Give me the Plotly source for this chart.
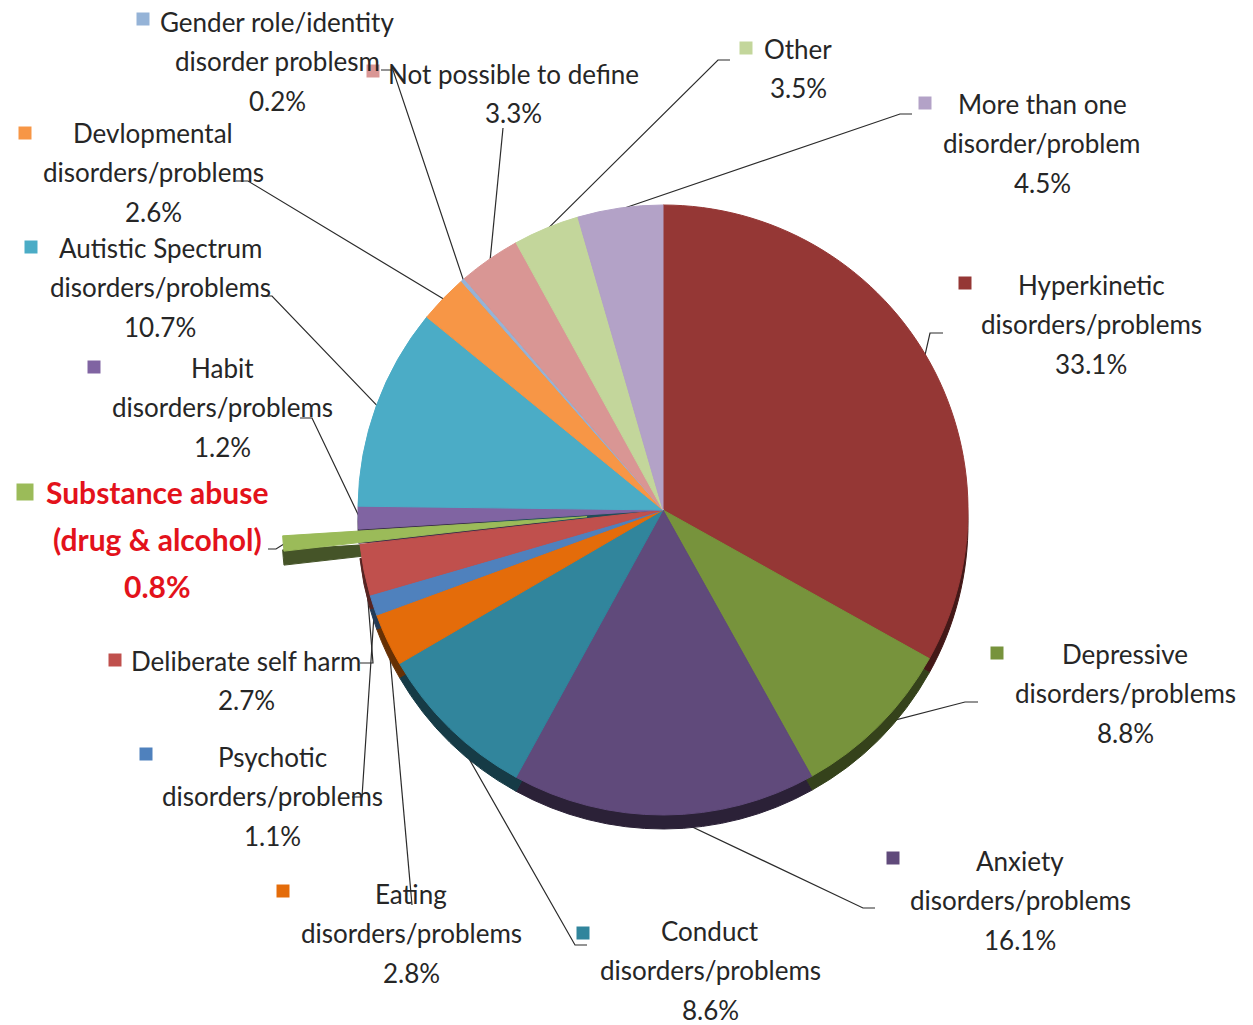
import math
import plotly.graph_objects as go

# Referral categories (clockwise from 12 o'clock) and their shares in percent
categories = [
    "Hyperkinetic\ndisorders/problems",
    "Depressive\ndisorders/problems",
    "Anxiety\ndisorders/problems",
    "Conduct\ndisorders/problems",
    "Eating\ndisorders/problems",
    "Psychotic\ndisorders/problems",
    "Deliberate self harm",
    "Substance abuse\n(drug & alcohol)",
    "Habit\ndisorders/problems",
    "Autistic Spectrum\ndisorders/problems",
    "Devlopmental\ndisorders/problems",
    "Gender role/identity\ndisorder problesm",
    "Not possible to define",
    "Other",
    "More than one\ndisorder/problem",
]
values = [33.1, 8.8, 16.1, 8.6, 2.8, 1.1, 2.7, 0.8, 1.2, 10.7, 2.6, 0.2, 3.3, 3.5, 4.5]
colors = [
    "#953735", "#77933C", "#604A7B", "#31859C", "#E46C0A",
    "#4F81BD", "#C0504D", "#9BBB59", "#8064A2", "#4BACC6",
    "#F79646", "#95B3D7", "#D99694", "#C3D69B", "#B3A2C7",
]
highlight = "Substance abuse\n(drug & alcohol)"

# Label layout (pixel positions: centre of first text line, key square, leader elbow/end)
label_pos = [
    (1091, 285), (1125, 654), (1020, 861), (710, 931), (411, 894),
    (272, 757), (246, 661), (157, 492), (222, 368), (160, 248),
    (153, 133), (277, 22), (513, 74), (798, 49), (1042, 104),
]
key_pos = [
    (965, 283), (997, 653), (893, 858), (583, 933), (283, 891),
    (146, 754), (115, 660), (25, 492), (94, 367), (31, 247),
    (25, 133), (143, 19), (373, 71), (746, 48), (925, 103),
]
leader_elbow = [
    (930, 333), (965, 702), (863, 908), (575, 945), (412, 905),
    (362, 797), (373, 663), (276, 549), (312, 418), (272, 296),
    (248, 181), (393, 70), (503, 128), (718, 60), (900, 114),
]
leader_end = [
    (943, 333), (978, 702), (875, 908), (587, 945), (412, 905),
    (352, 797), (360, 663), (268, 549), (300, 418), (262, 296),
    (236, 181), (381, 70), (503, 128), (730, 60), (912, 114),
]

W, H = 1253, 1025
CX, CY, R = 663, 510, 305
PULL = 0.25
RIM = 14
LINE_GAP = 39.3
FONT = "Lato, 'Open Sans', sans-serif"

pulls = [PULL if c == highlight else 0 for c in categories]
half = R * (1 + PULL)


def pie_domain(cy):
    return dict(x=[(CX - half) / W, (CX + half) / W],
                y=[1 - (cy + half) / H, 1 - (cy - half) / H])


def shade(hexc, f):
    r, g, b = (int(hexc[i:i + 2], 16) for i in (1, 3, 5))
    return f"rgb({int(r * f)},{int(g * f)},{int(b * f)})"


fig = go.Figure()

# darker copy below the top surface gives the pie its thickness
rim_colors = [shade(c, 0.45) for c in colors]
fig.add_trace(go.Pie(
    labels=categories, values=values, sort=False, direction="clockwise",
    rotation=0, pull=pulls, textinfo="none", hoverinfo="skip",
    marker=dict(colors=rim_colors, line=dict(color=rim_colors, width=1)),
    domain=pie_domain(CY + RIM), showlegend=False,
))
fig.add_trace(go.Pie(
    labels=categories, values=values, sort=False, direction="clockwise",
    rotation=0, pull=pulls, textinfo="none", hoverinfo="skip",
    marker=dict(colors=colors, line=dict(color=colors, width=1)),
    domain=pie_domain(CY), showlegend=False,
))

# leader lines from each slice's outer arc to its label
total = sum(values)
lx, ly = [], []
cum = 0.0
for i, v in enumerate(values):
    mid = (cum + v / 2) / total
    cum += v
    theta = 2 * math.pi * mid
    rr = R * (1 + pulls[i]) * 0.995
    sx = CX + rr * math.sin(theta)
    sy = CY - rr * math.cos(theta)
    ex, ey = leader_elbow[i]
    tx, ty = leader_end[i]
    lx += [sx, ex, tx, None]
    ly += [sy, ey, ty, None]
fig.add_trace(go.Scatter(
    x=lx, y=ly, mode="lines", line=dict(color="#2b2b2b", width=1.2),
    hoverinfo="skip", showlegend=False,
))

# colour keys next to the labels
fig.add_trace(go.Scatter(
    x=[p[0] for p in key_pos], y=[p[1] for p in key_pos], mode="markers",
    marker=dict(symbol="square", color=colors, opacity=1,
                size=[17 if c == highlight else 13 for c in categories],
                line=dict(width=0)),
    hoverinfo="skip", showlegend=False,
))

annotations = []
for i, (cat, v) in enumerate(zip(categories, values)):
    lines = cat.split("\n") + [f"{v}%"]
    x0, y0 = label_pos[i]
    if cat == highlight:
        font = dict(family=FONT, size=30, color="#E3121B", weight="bold")
        gap = 47
    else:
        font = dict(family=FONT, size=26, color="#262626")
        gap = LINE_GAP
    for k, t in enumerate(lines):
        annotations.append(dict(
            x=x0, y=y0 + k * gap, xref="x", yref="y", text=t,
            showarrow=False, xanchor="center", yanchor="middle", font=font,
        ))

fig.update_layout(
    width=W, height=H, margin=dict(l=0, r=0, t=0, b=0),
    paper_bgcolor="white", plot_bgcolor="white",
    xaxis=dict(range=[0, W], visible=False, fixedrange=True, domain=[0, 1]),
    yaxis=dict(range=[H, 0], visible=False, fixedrange=True, domain=[0, 1]),
    annotations=annotations,
)

fig.write_html("out.html")
